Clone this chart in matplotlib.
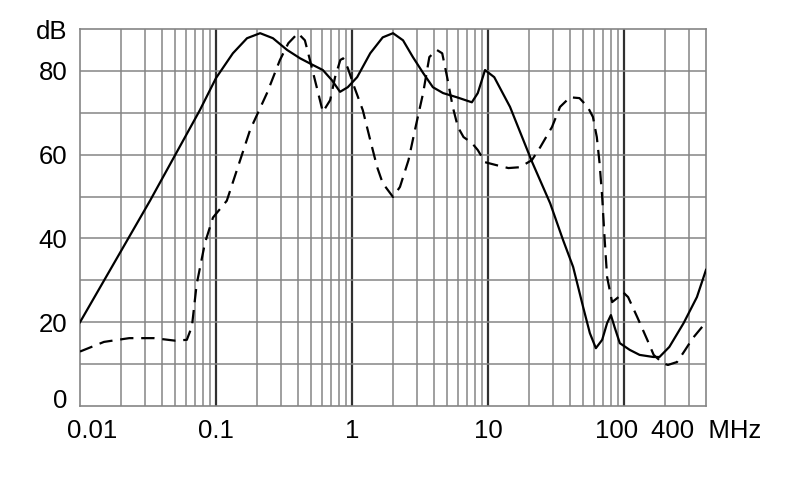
import matplotlib
matplotlib.use("Agg")
import matplotlib.pyplot as plt
import matplotlib.transforms as mtransforms

plt.rcParams['font.family'] = ['Liberation Sans', 'DejaVu Sans']

# solid curve (MHz, dB)
solid_f = [0.01, 0.0327, 0.076, 0.1, 0.133, 0.169, 0.211, 0.262, 0.333, 0.415, 0.516, 0.61,
           0.71, 0.816, 0.93, 1.09, 1.36, 1.68, 2.0, 2.37, 2.8, 3.33, 3.93, 4.67, 5.9, 7.6,
           8.4, 9.5, 11.1, 14.5, 21.1, 28.6, 35.6, 42.2, 50, 56, 62, 69, 75, 80, 85, 93,
           110, 130, 164, 182, 215, 274, 343, 400]
solid_db = [20, 49, 70.6, 78.3, 84.2, 87.8, 89, 87.8, 85, 83, 81.4, 80.2,
            77.8, 75, 76.1, 78.5, 84.2, 88, 89, 87.3, 83.3, 79.5, 76.1, 74.7, 73.7, 72.5,
            74.7, 80.2, 78.5, 71.4, 58.2, 48.4, 39.6, 33.2, 23.6, 17.4, 13.8, 15.8, 19.8, 21.7, 18.9, 15,
            13.4, 12.2, 11.7, 11.7, 14.1, 19.8, 26, 32.5]

# dashed curve (MHz, dB)
dash_f = [0.01, 0.015, 0.023, 0.035, 0.05, 0.061, 0.0665, 0.072, 0.083, 0.095, 0.12, 0.178,
          0.237, 0.295, 0.34, 0.40, 0.45, 0.49, 0.55, 0.61, 0.69, 0.75, 0.82, 0.86, 0.93,
          1.04, 1.20, 1.36, 1.53, 1.68, 2.0, 2.25, 2.6, 2.9, 3.33, 3.7, 4.2, 4.6, 5.0,
          5.5, 6.0, 6.6, 7.6, 8.4, 9.5, 11.5, 14.1, 17.1, 21, 24.2, 29.5, 33.8, 40, 47, 54,
          59, 63, 66, 69, 72, 75, 81.6, 91, 98, 107, 125, 148, 165, 193, 210, 245, 275,
          320, 375, 400]
dash_db = [13, 15.3, 16.2, 16.2, 15.6, 15.8, 19, 29, 39, 45, 49, 65.9,
           74.7, 82.6, 86.6, 89, 87.3, 82.6, 76.1, 70.2, 73, 78.5, 82.6, 83, 80.7,
           76.1, 70.6, 63.5, 57, 53.2, 49.9, 52.3, 58.7, 65.9, 74.7, 83.3, 85, 84.2, 78.5,
           71.4, 66.6, 64.2, 62.8, 61.1, 58.2, 57.5, 56.8, 57, 58.7, 61.8, 66.6, 71.4, 73.7, 73.5, 71.4,
           69, 64.2, 58, 49.9, 39.6, 30.8, 24.8, 26, 27.2, 26, 21.2, 15.8, 12.2, 10.2, 9.8, 10.5, 12.9,
           16.2, 18.9, 20]

xtick_vals = [0.01, 0.1, 1, 10, 100, 400]
xtick_labels = ['0.01', '0.1', '1', '10', '100', '400  MHz']
ytick_vals = [0, 20, 40, 60, 80, 90]
ytick_labels = ['0', '20', '40', '60', '80', 'dB']

fig = plt.figure(figsize=(7.9, 4.99), dpi=100)
ax = fig.add_axes([80 / 790, 93 / 499, 626 / 790, 377 / 499])
ax.set_xscale('log')
ax.set_xlim(0.01, 400)
ax.set_ylim(0, 90)

# grid
grid_col = '#858585'
for d in [0.01, 0.1, 1, 10, 100]:
    for k in range(2, 10):
        if k * d < 400:
            ax.axvline(k * d, color=grid_col, lw=1.1, zorder=1)
for d in [0.1, 1, 10, 100]:
    ax.axvline(d, color='#303030', lw=1.6, zorder=1)
for y in range(10, 90, 10):
    ax.axhline(y, color=grid_col, lw=1.1, zorder=1)
for s in ax.spines.values():
    s.set_color(grid_col)
    s.set_linewidth(1.2)

ax.plot(solid_f, solid_db, color='black', lw=1.6, zorder=3)
ax.plot(dash_f, dash_db, color='black', lw=1.6, dashes=(6, 3.5), zorder=3)

ax.set_xticks(xtick_vals)
ax.set_xticklabels(xtick_labels)
ax.xaxis.set_minor_locator(matplotlib.ticker.NullLocator())
ax.set_yticks(ytick_vals)
ax.set_yticklabels(ytick_labels)
ax.tick_params(axis='both', length=0, labelsize=18.5)
ax.tick_params(axis='x', pad=9)
ax.tick_params(axis='y', pad=9)

# small nudges of a few labels, as in the original
def nudge(lbl, dx, dy):
    lbl.set_transform(lbl.get_transform() + mtransforms.ScaledTranslation(dx / 100, dy / 100, fig.dpi_scale_trans))

xl = ax.get_xticklabels()
nudge(xl[0], 12, 0)
nudge(xl[4], -8, 0)
nudge(ax.get_yticklabels()[0], 0, 7)

fig.savefig('out.png', dpi=100)
